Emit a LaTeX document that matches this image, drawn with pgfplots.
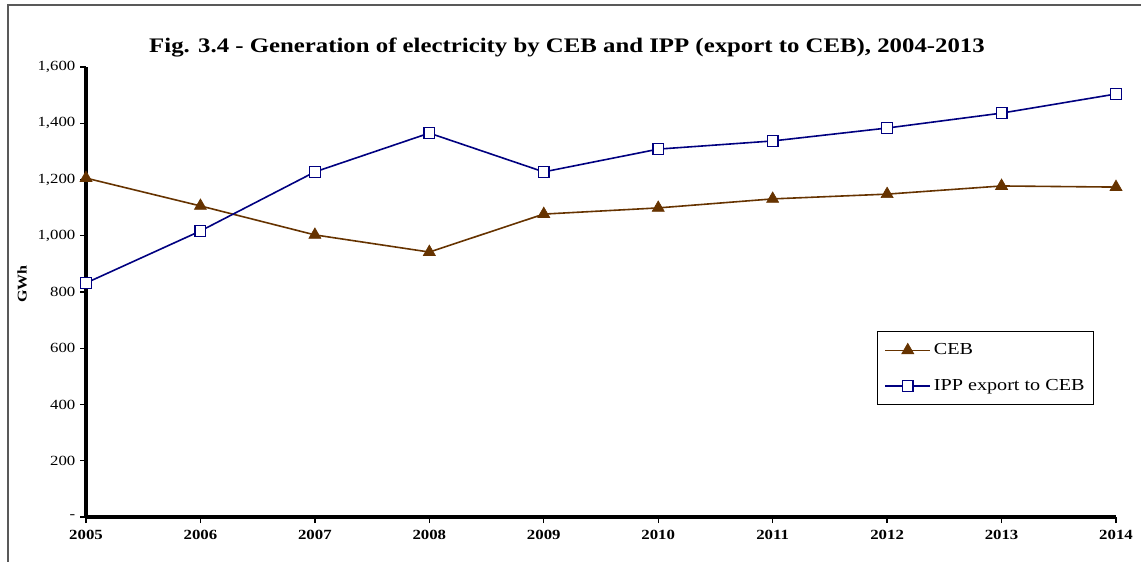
\documentclass[border=0pt]{standalone}
\usepackage{pgfplots}
\pgfplotsset{compat=1.18}
\usepackage{fontspec}
\setmainfont{Liberation Serif}[FakeStretch=1.2]

\definecolor{cebbrown}{HTML}{663300}
\definecolor{ippblue}{HTML}{000080}
\definecolor{framegray}{HTML}{595959}

\begin{document}
\begin{tikzpicture}[x=1pt,y=1pt]
\useasboundingbox (-64.5,-33) rectangle (791.25,387.75);
\draw[framegray, line width=1.5pt] (-58.5,-40) -- (-58.5,384) -- (800,384);
\begin{axis}[
    at={(0,0)}, anchor=south west,
    scale only axis,
    width=772.5pt, height=337.5pt,
    xmin=2005, xmax=2014, ymin=0, ymax=1600,
    axis x line=bottom, axis y line=left,
    axis line style={-, line width=2.4pt},
    clip=false,
    xtick={2005,2006,2007,2008,2009,2010,2011,2012,2013,2014},
    xticklabels={2005,2006,2007,2008,2009,2010,2011,2012,2013,2014},
    ytick={0,200,400,600,800,1000,1200,1400,1600},
    yticklabels={-,200,400,600,800,{1,000},{1,200},{1,400},{1,600}},
    tick align=outside,
    major tick length=4.5pt,
    tick style={black, line width=1pt},
    x tick label style={font=\bfseries\fontsize{10.5}{12}\selectfont, yshift=-2pt},
    y tick label style={font=\fontsize{10.5}{12}\selectfont},
    ylabel={GWh},
    every axis y label/.style={at={(axis description cs:-0.062,0.518)}, anchor=center, rotate=90, font=\bfseries\normalsize},
    title={Fig. 3.4 - Generation of electricity by CEB and IPP (export to CEB), 2004-2013},
    title style={at={(axis description cs:0.467,1)}, anchor=center, yshift=8.5pt, font=\bfseries\fontsize{15.5}{18}\selectfont},
    legend style={at={(axis description cs:0.768,0.413)}, anchor=north west,
        draw=black, line width=0.9pt, inner xsep=5pt, inner ysep=7pt,
        row sep=13pt, font=\fontsize{12.6}{14}\selectfont},
    legend cell align=left,
    legend image code/.code={\draw[#1, mark repeat=2, mark phase=2] plot coordinates {(0pt,0pt) (17pt,0pt) (34pt,0pt)};},
]

% CEB
\addplot[cebbrown, line width=1.2pt, mark=triangle*, mark size=5.2pt,
    mark options={fill=cebbrown, solid, line width=0.5pt}] coordinates {
    (2005,1205) (2006,1106) (2007,1003) (2008,942) (2009,1077)
    (2010,1099) (2011,1131) (2012,1148) (2013,1177) (2014,1173)
};

% IPP export to CEB
\addplot[ippblue, line width=1.2pt, mark=square*, mark size=4pt,
    mark options={fill=white, draw=ippblue, solid, line width=1pt}] coordinates {
    (2005,832) (2006,1017) (2007,1227) (2008,1365) (2009,1227)
    (2010,1308) (2011,1337) (2012,1383) (2013,1436) (2014,1504)
};

\legend{CEB, IPP export to CEB}
\end{axis}
\end{tikzpicture}
\end{document}
